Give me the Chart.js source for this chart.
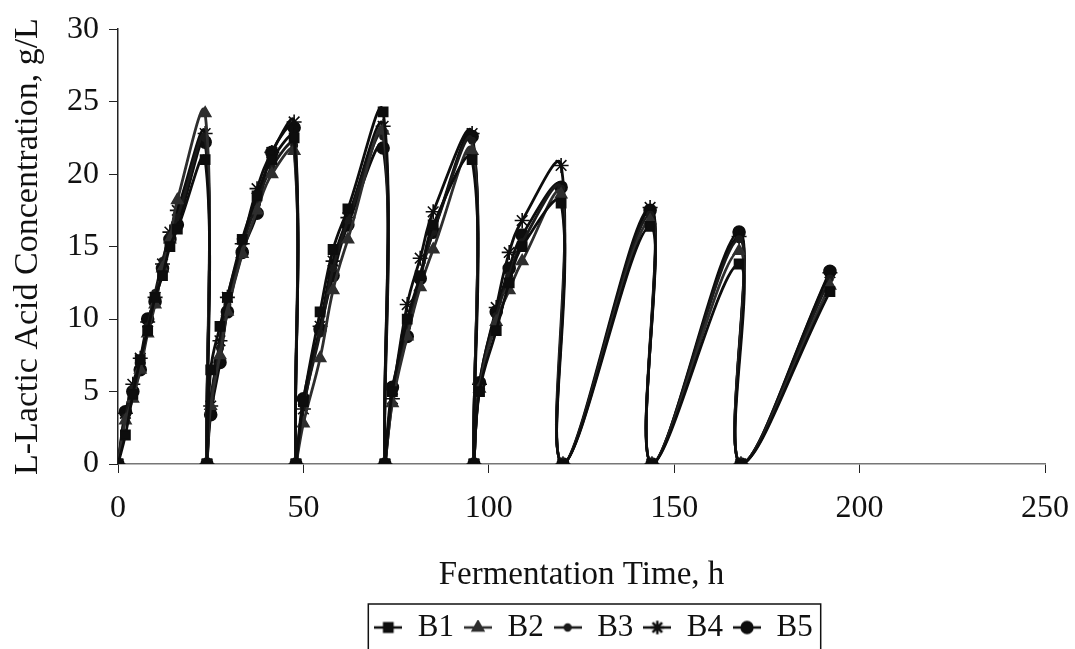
<!DOCTYPE html>
<html>
<head>
<meta charset="utf-8">
<script src="https://cdn.jsdelivr.net/npm/chart.js@4.4.0/dist/chart.umd.min.js"></script>
<style>
  html, body { margin: 0; padding: 0; background: #fff; }
  #wrap { width: 1075px; height: 649px; }
</style>
</head>
<body>
<div id="wrap"><canvas id="chart"></canvas></div>
<script>
// Tiempos de muestreo (h) de los 8 lotes repetidos
const hours = [0, 2, 4, 6, 8, 10, 12, 14, 16, 23.5,
  24, 25, 27.5, 29.5, 33.5, 37.5, 41.5, 47.5,
  48, 50, 54.5, 58, 62, 71.5,
  72, 74, 78, 81.5, 85, 95.5,
  96, 97.5, 102, 105.5, 109, 119.5,
  120, 143.5,
  144, 167.5,
  168, 192];

const labels = ['B1', 'B2', 'B3', 'B4', 'B5'];

// Ácido L-láctico (g/L)
const b1 = [0, 2.0, 4.8, 7.2, 9.2, 11.5, 13.0, 15.0, 16.2, 21.0,
  0, 6.5, 9.5, 11.5, 15.5, 18.5, 21.0, 22.5,
  0, 4.3, 10.5, 14.8, 17.6, 24.3,
  0, 5.0, 10.0, 13.0, 16.5, 21.0,
  0, 5.0, 9.2, 12.5, 15.0, 18.0,
  0, 16.4, 0, 13.8, 0, 11.9];
const b2 = [0, 3.0, 4.5, 6.5, 9.0, 11.0, 13.5, 15.5, 18.2, 24.2,
  0, 4.0, 7.5, 10.5, 14.5, 17.5, 20.0, 21.6,
  0, 2.8, 7.3, 12.0, 15.5, 23.0,
  0, 4.2, 8.8, 12.2, 14.8, 21.6,
  0, 5.2, 9.8, 12.0, 14.0, 18.6,
  0, 16.8, 0, 14.7, 0, 12.3];
const b3 = [0, 3.2, 5.2, 7.0, 9.5, 11.8, 14.0, 15.8, 17.0, 22.5,
  0, 4.5, 8.0, 11.0, 15.0, 18.0, 20.5, 22.0,
  0, 4.0, 9.0, 13.5, 16.8, 22.6,
  0, 4.8, 9.5, 13.0, 16.0, 22.3,
  0, 5.3, 10.2, 13.0, 15.3, 19.0,
  0, 17.2, 0, 15.5, 0, 12.8];
const b4 = [0, 3.5, 5.5, 7.3, 9.8, 11.5, 13.8, 16.0, 17.5, 22.8,
  0, 4.0, 8.5, 11.5, 15.2, 19.0, 21.5, 23.6,
  0, 3.8, 9.5, 14.0, 17.0, 23.3,
  0, 4.5, 11.0, 14.2, 17.4, 22.8,
  0, 5.5, 10.8, 14.6, 16.8, 20.6,
  0, 17.7, 0, 15.7, 0, 13.2];
const b5 = [0, 3.6, 5.0, 6.5, 10.0, 11.2, 13.5, 15.5, 16.5, 22.2,
  0, 3.4, 7.0, 10.5, 14.6, 17.3, 21.5, 23.2,
  0, 4.5, 9.3, 13.0, 16.5, 21.8,
  0, 5.3, 8.8, 12.8, 16.0, 22.6,
  0, 5.6, 10.5, 13.5, 15.8, 19.1,
  0, 17.5, 0, 16.0, 0, 13.3];

const values = [b1, b2, b3, b4, b5];

// estilo de cada serie
const estilos = [
  { color: '#0d0d0d', style: 'rect', radius: 6.5 },
  { color: '#2e2e2e', style: 'triangle', radius: 6.5 },
  { color: '#1a1a1a', style: 'circle', radius: 3.2 },
  { color: '#0d0d0d', style: 'star', radius: 7.5 },
  { color: '#0d0d0d', style: 'circle', radius: 6 }
];

const FONT = "'Liberation Serif', 'Times New Roman', serif";

// icono de leyenda: línea corta con el marcador en el centro
function iconoLeyenda(est) {
  const c = document.createElement('canvas');
  c.width = 28; c.height = 16;
  const g = c.getContext('2d');
  g.strokeStyle = est.color;
  g.fillStyle = est.color;
  g.lineWidth = 2.5;
  g.beginPath(); g.moveTo(0, 8); g.lineTo(28, 8); g.stroke();
  Chart.helpers.drawPoint(g, {
    pointStyle: est.style, radius: est.radius * 0.9, borderWidth: 1.5
  }, 14, 8);
  if (est.style !== 'star') g.fill();
  return c;
}

const datasets = labels.map((name, k) => ({
  label: name,
  data: hours.map((h, i) => ({ x: h, y: values[k][i] })),
  showLine: true,
  borderColor: estilos[k].color,
  backgroundColor: estilos[k].color,
  borderWidth: 2.8,
  tension: 0.42,
  pointStyle: estilos[k].style,
  pointRadius: estilos[k].radius,
  pointBorderWidth: 1.6,
  pointBackgroundColor: estilos[k].color,
  pointBorderColor: estilos[k].color
}));

// desplaza la leyenda y la enmarca
const marcoLeyenda = {
  id: 'marcoLeyenda',
  afterLayout(chart) {
    const lg = chart.legend;
    if (!lg) return;
    lg.left += 71;
    lg.right += 71;
    lg.top += 4;
    lg.bottom += 4;
  },
  afterDraw(chart) {
    const lg = chart.legend;
    if (!lg || !lg.legendHitBoxes.length) return;
    const boxes = lg.legendHitBoxes;
    const x0 = Math.min(...boxes.map(b => b.left)) - 6;
    const x1 = Math.max(...boxes.map(b => b.left + b.width)) + 8;
    const y0 = Math.min(...boxes.map(b => b.top)) - 8;
    const ctx = chart.ctx;
    ctx.save();
    ctx.strokeStyle = '#111';
    ctx.lineWidth = 1.5;
    ctx.strokeRect(x0, y0, x1 - x0, 649 - y0 + 10);
    ctx.restore();
  }
};

const ctx = document.getElementById('chart').getContext('2d');
const chart = new Chart(ctx, {
  type: 'scatter',
  data: { datasets },
  options: {
    responsive: true,
    maintainAspectRatio: false,
    animation: false,
    layout: { padding: { top: 17, right: 30, bottom: 0, left: 0 } },
    plugins: {
      tooltip: { enabled: false },
      legend: {
        position: 'bottom',
        labels: {
          usePointStyle: true,
          pointStyleWidth: 28,
          padding: 10,
          color: '#111',
          font: { family: FONT, size: 31 },
          generateLabels(ch) {
            return ch.data.datasets.map((ds, i) => ({
              text: ds.label,
              pointStyle: iconoLeyenda(estilos[i]),
              fillStyle: ds.borderColor,
              strokeStyle: ds.borderColor,
              lineWidth: 0,
              fontColor: '#111',
              hidden: false,
              datasetIndex: i
            }));
          }
        }
      }
    },
    scales: {
      x: {
        type: 'linear',
        min: 0, max: 250,
        afterFit(scale) {
          scale.height = 134;
          scale.paddingRight = 0;
        },
        ticks: {
          stepSize: 50, color: '#111', padding: 16,
          font: { family: FONT, size: 32 }
        },
        grid: { drawOnChartArea: false, drawTicks: true, tickLength: 9, color: '#222' },
        border: { color: '#777', width: 1.5 },
        title: {
          display: true, text: 'Fermentation Time, h', color: '#111',
          font: { family: FONT, size: 33 },
          padding: { top: 0, bottom: 3 }
        }
      },
      y: {
        min: 0, max: 30,
        afterFit(scale) { scale.width = 118; },
        ticks: {
          stepSize: 5, color: '#111', padding: 10,
          font: { family: FONT, size: 32 }
        },
        grid: { drawOnChartArea: false, drawTicks: true, tickLength: 9, color: '#222' },
        border: { color: '#222', width: 1.5 },
        title: {
          display: true, text: 'L-Lactic Acid Concentration, g/L', color: '#111',
          font: { family: FONT, size: 34 },
          padding: { top: 8, bottom: 0 }
        }
      }
    }
  },
  plugins: [marcoLeyenda]
});
</script>
</body>
</html>
